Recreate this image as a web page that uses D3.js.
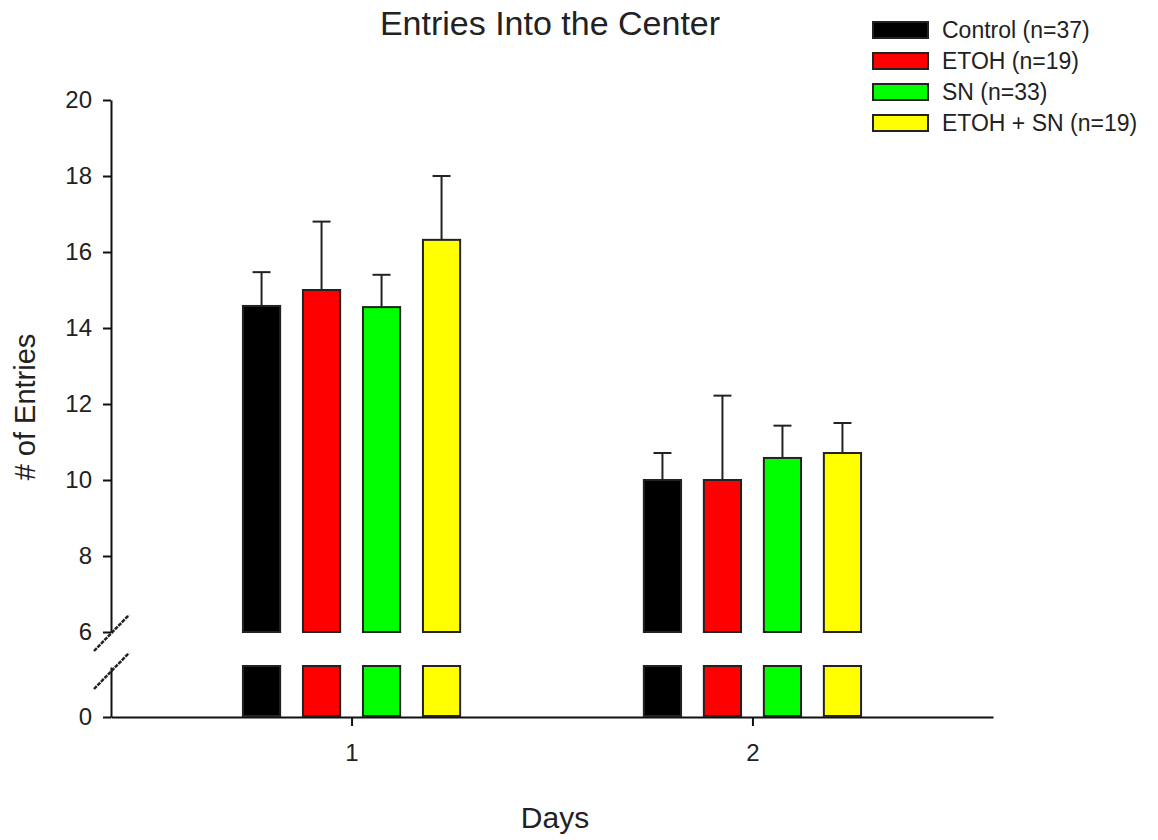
<!DOCTYPE html>
<html>
<head>
<meta charset="utf-8">
<script src="https://cdn.jsdelivr.net/npm/d3@7"></script>
<style>
  body { margin: 0; background: #fff; }
  text { font-family: "Liberation Sans", Arial, sans-serif; fill: #222; }
</style>
</head>
<body>
<div id="main"></div>
<script>
// **** Data ****
var days = [1, 2];
var groups = ["Control (n=37)", "ETOH (n=19)", "SN (n=33)", "ETOH + SN (n=19)"];
var colors = ["#000000", "#ff0000", "#00ff00", "#ffff00"];
// mean entries, one array per group, day 1 then day 2
var means = [
  [14.58, 10.0],
  [15.0, 10.0],
  [14.55, 10.58],
  [16.32, 10.71]
];
// upper error (SEM)
var errors = [
  [0.89, 0.71],
  [1.8, 2.22],
  [0.85, 0.85],
  [1.68, 0.79]
];
var upperTicks = [6, 8, 10, 12, 14, 16, 18, 20];
var lowerTicks = [0];

// **** Svg ****
var svg = d3.select("#main")
  .append("svg")
    .attr("width", 1158)
    .attr("height", 840);

// **** Scales (broken y axis: 0..1 below, 6..20 above) ****
var x = d3.scaleLinear().domain([0.4, 2.6]).range([111, 993]);

var sub = d3.scaleBand()
  .domain(groups)
  .range([-120, 120])
  .paddingInner(0.38)
  .paddingOuter(0.19);

var yUp = d3.scaleLinear().domain([6, 20]).range([632, 100]);
var yLow = d3.scaleLinear().domain([0, 1]).range([717, 667]);

// **** Axes ****
var fontFam = '"Liberation Sans", Arial, sans-serif';

function styleAxis(g) {
  g.attr("font-size", 24).attr("font-family", fontFam);
  g.selectAll("path").attr("stroke", "#111").attr("stroke-width", 2);
  g.selectAll("line").attr("stroke", "#111").attr("stroke-width", 2);
  g.selectAll("text").attr("fill", "#222");
}

svg.append("g")
  .attr("transform", "translate(111,0)")
  .call(d3.axisLeft(yUp).tickValues(upperTicks).tickSize(8).tickSizeOuter(0).tickPadding(11))
  .call(styleAxis);

svg.append("g")
  .attr("transform", "translate(111,0)")
  .call(d3.axisLeft(yLow).tickValues(lowerTicks).tickFormat(d3.format("d")).tickSize(8).tickSizeOuter(0).tickPadding(11))
  .call(styleAxis);

svg.append("g")
  .attr("transform", "translate(0,717)")
  .call(d3.axisBottom(x).tickValues(days).tickFormat(d3.format("d")).tickSize(9).tickSizeOuter(0).tickPadding(18))
  .call(styleAxis);

// **** Break marks ****
[yUp(6), yLow(1) + 3].forEach(function(yy) {
  svg.append("line")
    .attr("x1", 94).attr("y1", yy + 19)
    .attr("x2", 129).attr("y2", yy - 17)
    .attr("stroke", "#222")
    .attr("stroke-width", 2.5)
    .attr("stroke-dasharray", "4,1");
});

// **** Bars ****
var rows = [];
groups.forEach(function(g, i) {
  days.forEach(function(d, j) {
    rows.push({group: g, color: colors[i], day: d, mean: means[i][j], err: errors[i][j]});
  });
});

function barX(d) { return x(d.day) + sub(d.group); }

var bars = svg.append("g");

// upper part
bars.selectAll("rect.up")
  .data(rows)
  .enter()
  .append("rect")
    .attr("class", "up")
    .attr("x", barX)
    .attr("y", function(d) { return yUp(d.mean); })
    .attr("width", sub.bandwidth())
    .attr("height", function(d) { return yUp(6) - yUp(d.mean); })
    .style("fill", function(d) { return d.color; })
    .style("stroke", "#222")
    .style("stroke-width", 2);

// lower part (clipped at the break)
bars.selectAll("rect.low")
  .data(rows)
  .enter()
  .append("rect")
    .attr("class", "low")
    .attr("x", barX)
    .attr("y", function(d) { return yLow(Math.min(d.mean, 1)) - 1; })
    .attr("width", sub.bandwidth())
    .attr("height", function(d) { return yLow(0) - yLow(Math.min(d.mean, 1)); })
    .style("fill", function(d) { return d.color; })
    .style("stroke", "#222")
    .style("stroke-width", 2);

// **** Error bars (upper only) ****
var eb = svg.append("g").attr("stroke", "#222").attr("stroke-width", 2);

eb.selectAll("line.v")
  .data(rows)
  .enter()
  .append("line")
    .attr("x1", function(d) { return barX(d) + sub.bandwidth() / 2; })
    .attr("x2", function(d) { return barX(d) + sub.bandwidth() / 2; })
    .attr("y1", function(d) { return yUp(d.mean); })
    .attr("y2", function(d) { return yUp(d.mean + d.err); });

eb.selectAll("line.cap")
  .data(rows)
  .enter()
  .append("line")
    .attr("x1", function(d) { return barX(d) + sub.bandwidth() / 2 - 9; })
    .attr("x2", function(d) { return barX(d) + sub.bandwidth() / 2 + 9; })
    .attr("y1", function(d) { return yUp(d.mean + d.err); })
    .attr("y2", function(d) { return yUp(d.mean + d.err); });

// **** Labels ****
svg.append("text")
  .attr("x", 550)
  .attr("y", 35)
  .attr("text-anchor", "middle")
  .style("font-size", "34px")
  .text("Entries Into the Center");

svg.append("text")
  .attr("x", 555)
  .attr("y", 828)
  .attr("text-anchor", "middle")
  .style("font-size", "30px")
  .text("Days");

svg.append("text")
  .attr("transform", "translate(35,407) rotate(-90)")
  .attr("text-anchor", "middle")
  .style("font-size", "29px")
  .text("# of Entries");

// **** Legend ****
var legend = svg.append("g");
groups.forEach(function(g, i) {
  var cy = 30 + i * 31;
  legend.append("rect")
    .attr("x", 873)
    .attr("y", cy - 8)
    .attr("width", 55)
    .attr("height", 16)
    .style("fill", colors[i])
    .style("stroke", "#222")
    .style("stroke-width", 2);
  legend.append("text")
    .attr("x", 942)
    .attr("y", cy)
    .attr("dominant-baseline", "central")
    .style("font-size", "23px")
    .text(g);
});
</script>
</body>
</html>
